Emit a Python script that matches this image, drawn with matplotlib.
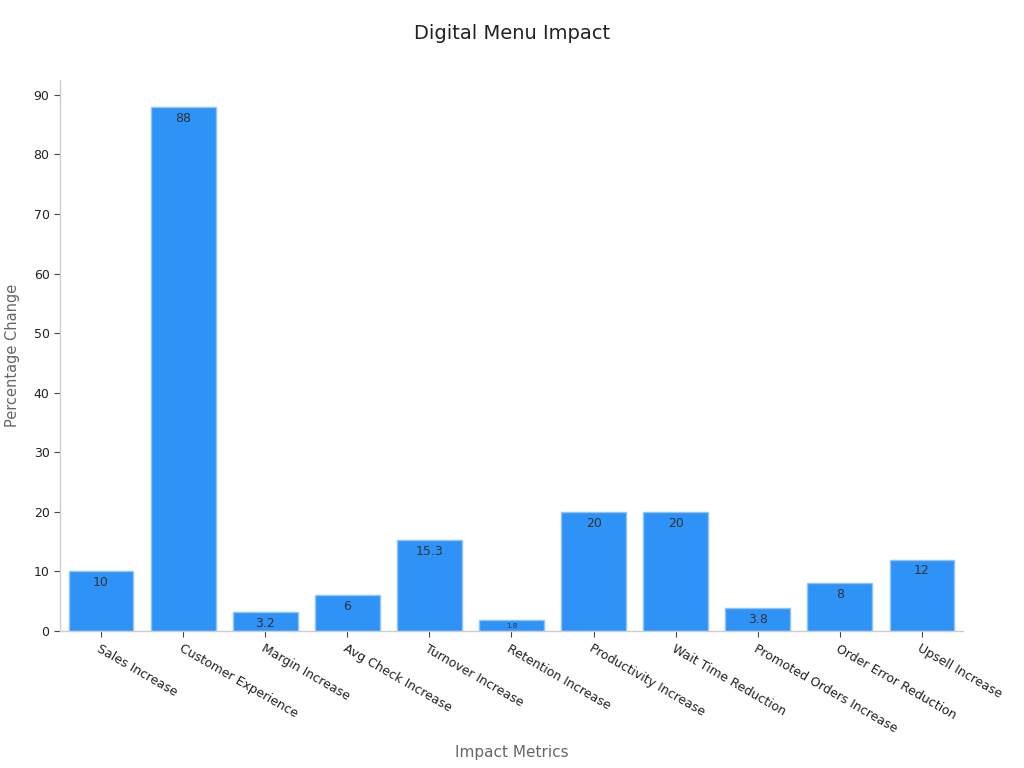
import matplotlib
matplotlib.use("Agg")
import matplotlib.pyplot as plt

categories = ["Sales Increase", "Customer Experience", "Margin Increase", "Avg Check Increase",
              "Turnover Increase", "Retention Increase", "Productivity Increase", "Wait Time Reduction",
              "Promoted Orders Increase", "Order Error Reduction", "Upsell Increase"]
values = [10, 88, 3.2, 6, 15.3, 1.8, 20, 20, 3.8, 8, 12]
value_labels = ["10", "88", "3.2", "6", "15.3", "1.8", "20", "20", "3.8", "8", "12"]
yticks = [0, 10, 20, 30, 40, 50, 60, 70, 80, 90]

plt.rcParams['font.family'] = ['DejaVu Sans']
fig = plt.figure(figsize=(10.24, 7.68), dpi=100)
ax = fig.add_axes([0.0586, 0.1784, 0.8818, 0.7174])

x = list(range(len(categories)))
bars = ax.bar(x, values, width=0.79, color="#2e92f7", edgecolor="#8cc4fb", linewidth=1.0, zorder=2)

for xi, v, lab in zip(x, values, value_labels):
    if v < 3:
        ax.text(xi, v - 0.9, lab, ha="center", va="center", fontsize=5, color="#333333", zorder=3)
    else:
        ax.text(xi, v - 0.8, lab, ha="center", va="top", fontsize=9, color="#333333", zorder=3)

ax.set_xlim(-0.5, 10.5)
ax.set_ylim(0, 92.5)
ax.set_yticks(yticks)
ax.set_xticks(x)
ax.set_xticklabels(categories, rotation=-30, ha="left", va="top", rotation_mode="anchor",
                   fontsize=9, color="#222222")
ax.tick_params(axis="y", labelsize=9, labelcolor="#222222", color="#444444", length=4)
ax.tick_params(axis="x", color="#444444", length=4, pad=4)

for s in ["top", "right"]:
    ax.spines[s].set_visible(False)
for s in ["left", "bottom"]:
    ax.spines[s].set_color("#cccccc")
    ax.spines[s].set_linewidth(1.0)

ax.set_xlabel("Impact Metrics", fontsize=11, color="#666666", labelpad=7)
ax.set_ylabel("Percentage Change", fontsize=10.5, color="#666666", labelpad=10)
fig.text(0.5, 0.957, "Digital Menu Impact", ha="center", va="center", fontsize=14, color="#222222")

fig.savefig("out.png", dpi=100)
